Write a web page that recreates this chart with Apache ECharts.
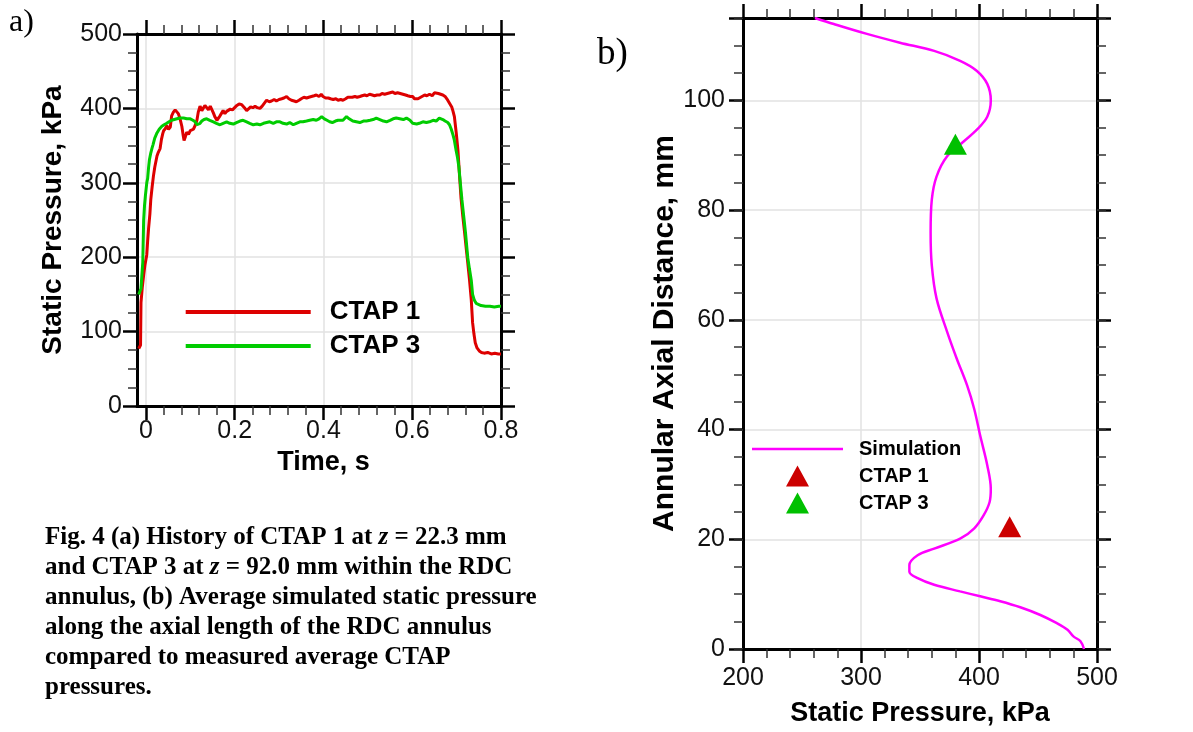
<!DOCTYPE html>
<html>
<head>
<meta charset="utf-8">
<script src="https://cdn.jsdelivr.net/npm/echarts@6/dist/echarts.min.js"></script>
<style>
html,body{margin:0;padding:0;background:#fff;}
#chart{width:1193px;height:732px;}
</style>
</head>
<body>
<div id="chart"></div>
<script>
// ---- Panel (a): pressure history ----
const ctap1Time = [-0.016,-0.013,-0.012,-0.011,-0.008,-0.005,-0.002,0.002,0.004,0.006,
0.009,0.011,0.014,0.017,0.020,0.023,0.025,0.028,0.032,0.035,
0.038,0.040,0.044,0.047,0.051,0.055,0.058,0.062,0.066,0.070,
0.073,0.077,0.081,0.084,0.086,0.089,0.092,0.096,0.100,0.104,
0.107,0.111,0.115,0.118,0.122,0.126,0.129,0.133,0.137,0.141,
0.145,0.148,0.152,0.156,0.160,0.163,0.167,0.171,0.174,0.178,
0.182,0.186,0.190,0.195,0.200,0.205,0.210,0.216,0.222,0.227,
0.231,0.236,0.241,0.246,0.251,0.257,0.262,0.267,0.272,0.278,
0.283,0.289,0.294,0.300,0.306,0.311,0.317,0.322,0.328,0.334,
0.339,0.345,0.350,0.356,0.362,0.367,0.373,0.379,0.384,0.390,
0.395,0.399,0.405,0.411,0.416,0.422,0.428,0.433,0.439,0.444,
0.450,0.455,0.459,0.465,0.471,0.476,0.482,0.487,0.493,0.498,
0.504,0.510,0.515,0.521,0.527,0.532,0.538,0.544,0.550,0.556,
0.561,0.567,0.573,0.579,0.585,0.590,0.596,0.601,0.605,0.609,
0.613,0.617,0.622,0.628,0.633,0.639,0.645,0.650,0.654,0.659,
0.664,0.669,0.674,0.680,0.684,0.689,0.692,0.695,0.699,0.703,
0.706,0.710,0.714,0.718,0.722,0.725,0.729,0.733,0.736,0.739,
0.742,0.746,0.751,0.756,0.762,0.770,0.778,0.786,0.794,0.800];
const ctap1Pressure = [77,79,82,139,160,176,190,203,222,238,
258,277,294,309,321,330,336,341,346,358,
366,370,373,377,372,375,390,395,398,396,
393,386,376,364,357,362,368,365,370,368,
372,377,384,395,403,397,399,404,401,398,
403,401,394,388,384,386,390,394,397,393,
396,394,399,398,401,404,406,405,401,397,
399,402,401,403,401,400,403,407,411,409,
410,412,410,412,413,414,416,413,411,410,
409,411,413,415,414,415,416,417,418,416,
419,416,414,414,413,412,413,411,412,411,
413,415,416,415,416,415,416,417,418,417,
419,418,417,418,418,420,419,420,421,422,
420,421,420,419,418,417,416,416,413,411,
413,415,416,418,417,419,417,421,419,420,
419,418,416,411,409,402,396,389,368,344,
315,279,255,233,210,193,170,143,112,97,
85,78,74,72,71,72,70,71,70,70];

const ctap3Time = [-0.016,-0.013,-0.011,-0.009,-0.007,-0.005,-0.003,-0.001,0.002,0.004,
0.006,0.008,0.011,0.014,0.016,0.020,0.025,0.030,0.036,0.041,
0.047,0.052,0.058,0.064,0.070,0.077,0.085,0.092,0.100,0.106,
0.111,0.115,0.118,0.122,0.126,0.131,0.137,0.144,0.152,0.159,
0.167,0.174,0.182,0.189,0.197,0.204,0.212,0.219,0.227,0.234,
0.242,0.250,0.257,0.265,0.272,0.279,0.287,0.294,0.302,0.309,
0.317,0.324,0.332,0.339,0.347,0.354,0.362,0.369,0.377,0.384,
0.390,0.396,0.402,0.408,0.414,0.420,0.427,0.433,0.437,0.444,
0.452,0.458,0.466,0.474,0.482,0.490,0.497,0.505,0.512,0.519,
0.527,0.535,0.542,0.550,0.557,0.564,0.572,0.580,0.587,0.595,
0.601,0.605,0.610,0.616,0.624,0.632,0.639,0.647,0.654,0.661,
0.665,0.669,0.674,0.680,0.684,0.688,0.692,0.695,0.699,0.702,
0.705,0.709,0.712,0.716,0.720,0.725,0.729,0.733,0.736,0.740,
0.744,0.748,0.755,0.765,0.775,0.785,0.795,0.800];
const ctap3Pressure = [150,152,158,176,193,250,270,283,300,306,
320,331,340,347,351,360,367,372,376,378,
380,382,384,385,386,387,387,386,386,384,
382,378,376,380,383,385,386,384,382,380,
378,380,382,380,379,381,383,384,382,380,
378,379,378,380,381,382,380,382,382,380,
379,381,378,380,382,382,383,384,385,384,
386,389,386,384,382,381,383,384,385,384,
389,386,383,382,381,383,383,384,385,387,
385,383,382,384,386,387,386,385,387,384,
380,378,379,380,382,381,382,384,383,387,
389,385,383,381,378,372,364,357,343,334,
322,296,277,255,233,200,184,169,150,142,
138,136,135,134,134,133,134,134];

// ---- Panel (b): axial pressure profile ----
const simPressure = [489,486,480,475,466,452,435,418,401,384,
362,348,341,341,348,362,384,396,404,409,
410,407,401,396,390,381,373,364,360,359,
360,364,373,387,398,407,410,407,398,384,
362,333,305,277,261];
const simDistance = [0,1.4,2.3,3.5,4.7,6.2,7.6,8.7,9.6,10.5,
11.7,12.9,14.1,15.3,17.1,18.3,20.1,22.0,24.4,26.8,
29.2,33.5,38.9,43.7,48,53,57.8,63.9,69.9,75.9,
81.9,86.1,89.8,92.5,94.6,97,100,103,105.4,107.2,
109,110.5,112.1,113.9,115];
const ctap1Avg = [426, 22.3];
const ctap3Avg = [380, 92.0];

const captionLines = [
  ['Fig. 4 (a) History of CTAP 1 at ', 'z', ' = 22.3 mm'],
  ['and CTAP 3 at ', 'z', ' = 92.0 mm within the RDC'],
  ['annulus, (b) Average simulated static pressure'],
  ['along the axial length of the RDC annulus'],
  ['compared to measured average CTAP'],
  ['pressures.']
];

const SANS = 'Liberation Sans, Arial, sans-serif';
const SERIF = 'Liberation Serif, Times New Roman, serif';
const tickLabel = {fontFamily: SANS, fontSize: 25, color: '#111'};
const nameStyle = (s) => ({fontFamily: SANS, fontSize: s, fontWeight: 'bold', color: '#000'});
const frameLine = {show: true, onZero: false, lineStyle: {color: '#000', width: 3}};
const noLine = {show: false, onZero: false};
const majorTick = {show: true, inside: false, length: 14, lineStyle: {color: '#000', width: 2.5}};
const shortTick = {show: true, inside: false, length: 9, lineStyle: {color: '#333', width: 1.5}};
const minorTick = (n) => ({show: true, splitNumber: n, length: 9, lineStyle: {color: '#333', width: 1.5}});
const gridLine = {show: true, lineStyle: {color: '#e2e2e2', width: 1.5}};
const off = {show: false};

// legend icons (bounding box = item box, so nothing is stretched)
const triIcon = 'path://M0,0L0.01,0M91,21L90.99,21M34,21L45.5,0L57,21Z';
const lineIcon = 'path://M0,0L0.01,0M91,21L90.99,21M0,9.3L91,9.3L91,11.7L0,11.7Z';

const captionText = captionLines.map(parts => parts.map((p, i) => (i === 1 ? '{i|' + p + '}' : '{n|' + p + '}')).join('')).join('\n');

const chart = echarts.init(document.getElementById('chart'), null, {renderer: 'canvas'});
chart.setOption({
  animation: false,
  backgroundColor: '#fff',
  grid: [
    {left: 137, top: 34, width: 364, height: 372},
    {left: 145.88, top: 34, width: 355.12, height: 372},
    {left: 743, top: 18, width: 354, height: 633}
  ],
  xAxis: [
    {gridIndex: 0, type: 'value', position: 'bottom', min: -0.02, max: 0.8, axisLine: frameLine, axisTick: off, axisLabel: off, splitLine: off},
    {gridIndex: 0, type: 'value', position: 'top', min: -0.02, max: 0.8, axisLine: frameLine, axisTick: off, axisLabel: off, splitLine: off},
    {gridIndex: 1, type: 'value', position: 'bottom', min: 0, max: 0.8, interval: 0.2,
      axisLine: noLine, axisTick: majorTick, minorTick: minorTick(5), splitLine: gridLine,
      axisLabel: Object.assign({margin: 13}, tickLabel),
      name: 'Time, s', nameLocation: 'middle', nameGap: 40, nameTextStyle: nameStyle(27)},
    {gridIndex: 1, type: 'value', position: 'top', min: 0, max: 0.8, interval: 0.2,
      axisLine: noLine, axisTick: majorTick, minorTick: minorTick(5), splitLine: off, axisLabel: off},
    {gridIndex: 2, type: 'value', position: 'bottom', min: 200, max: 500, interval: 100,
      axisLine: frameLine, axisTick: majorTick, minorTick: minorTick(5), splitLine: gridLine,
      axisLabel: Object.assign({margin: 17}, tickLabel),
      name: 'Static Pressure, kPa', nameLocation: 'middle', nameGap: 51, nameTextStyle: nameStyle(27)},
    {gridIndex: 2, type: 'value', position: 'top', min: 200, max: 500, interval: 100,
      axisLine: frameLine, axisTick: majorTick, minorTick: minorTick(5), splitLine: off, axisLabel: off}
  ],
  yAxis: [
    {gridIndex: 0, type: 'value', position: 'left', min: 0, max: 500, interval: 100,
      axisLine: frameLine, axisTick: majorTick, minorTick: minorTick(4), splitLine: gridLine,
      axisLabel: Object.assign({margin: 15}, tickLabel),
      name: 'Static Pressure, kPa', nameLocation: 'middle', nameGap: 70, nameTextStyle: nameStyle(28)},
    {gridIndex: 0, type: 'value', position: 'right', min: 0, max: 500, interval: 100,
      axisLine: frameLine, axisTick: majorTick, minorTick: minorTick(4), splitLine: off, axisLabel: off},
    {gridIndex: 1, type: 'value', show: false, min: 0, max: 500, axisLine: noLine},
    {gridIndex: 2, type: 'value', position: 'left', min: 0, max: 115, interval: 20,
      axisLine: frameLine, axisTick: majorTick, splitLine: gridLine,
      axisLabel: Object.assign({margin: 18, formatter: v => (v > 100 ? '' : String(v))}, tickLabel),
      name: 'Annular Axial Distance, mm', nameLocation: 'middle', nameGap: 52, nameTextStyle: nameStyle(30)},
    {gridIndex: 2, type: 'value', position: 'left', min: 0, max: 115, interval: 5,
      axisLine: noLine, axisTick: shortTick, splitLine: off, axisLabel: off},
    {gridIndex: 2, type: 'value', position: 'right', min: 0, max: 115, interval: 20,
      axisLine: frameLine, axisTick: majorTick, splitLine: off, axisLabel: off},
    {gridIndex: 2, type: 'value', position: 'right', min: 0, max: 115, interval: 5,
      axisLine: noLine, axisTick: shortTick, splitLine: off, axisLabel: off}
  ],
  legend: [
    {data: [{name: 'CTAP 1', icon: 'rect'}, {name: 'CTAP 3', icon: 'rect'}], orient: 'vertical', left: 185.7, top: 299, padding: 0,
      itemWidth: 125, itemHeight: 4, itemGap: 8, selectedMode: false,
      textStyle: {fontFamily: SANS, fontWeight: 'bold', fontSize: 26, lineHeight: 26, color: '#000', padding: [0, 0, 0, 14]}},
    {data: [{name: 'Simulation', icon: lineIcon}, {name: 'b:CTAP 1', icon: triIcon}, {name: 'b:CTAP 3', icon: triIcon}],
      orient: 'vertical', left: 752, top: 438.5, padding: 0,
      itemWidth: 91, itemHeight: 21, itemGap: 6, selectedMode: false,
      formatter: n => n.replace('b:', ''),
      textStyle: {fontFamily: SANS, fontWeight: 'bold', fontSize: 20, lineHeight: 21, color: '#000', padding: [0, 0, 0, 11]}}
  ],
  series: [
    {type: 'line', name: 'CTAP 1', xAxisIndex: 0, yAxisIndex: 0, symbol: 'none', z: 3,
      data: ctap1Time.map((t, i) => [t, ctap1Pressure[i]]),
      lineStyle: {color: '#dd0000', width: 3}, itemStyle: {color: '#dd0000'}},
    {type: 'line', name: 'CTAP 3', xAxisIndex: 0, yAxisIndex: 0, symbol: 'none', z: 4,
      data: ctap3Time.map((t, i) => [t, ctap3Pressure[i]]),
      lineStyle: {color: '#00cc00', width: 3}, itemStyle: {color: '#00cc00'}},
    {type: 'line', name: 'Simulation', xAxisIndex: 4, yAxisIndex: 3, symbol: 'none', smooth: 0.35, z: 3,
      data: simPressure.map((p, i) => [p, simDistance[i]]),
      lineStyle: {color: '#ff00ff', width: 2.5}, itemStyle: {color: '#ff00ff'}},
    {type: 'scatter', name: 'b:CTAP 1', xAxisIndex: 4, yAxisIndex: 3, symbol: 'triangle', symbolSize: [23, 21], z: 5,
      data: [ctap1Avg], itemStyle: {color: '#cc0000', opacity: 1}},
    {type: 'scatter', name: 'b:CTAP 3', xAxisIndex: 4, yAxisIndex: 3, symbol: 'triangle', symbolSize: [23, 21], z: 5,
      data: [ctap3Avg], itemStyle: {color: '#00c000', opacity: 1}}
  ],
  graphic: [
    {type: 'text', left: 9, top: 6.5, style: {text: 'a)', font: '32px ' + SERIF, fill: '#000'}},
    {type: 'text', left: 597, top: 35.5, style: {text: 'b)', font: '37px ' + SERIF, fill: '#000'}},
    {type: 'text', left: 45, top: 523, style: {
      text: captionText, fill: '#000', lineHeight: 30,
      rich: {
        n: {fontFamily: SERIF, fontWeight: 'bold', fontSize: 25, lineHeight: 30, fill: '#000'},
        i: {fontFamily: SERIF, fontWeight: 'bold', fontStyle: 'italic', fontSize: 25, lineHeight: 30, fill: '#000'}
      }}}
  ]
});
</script>
</body>
</html>
